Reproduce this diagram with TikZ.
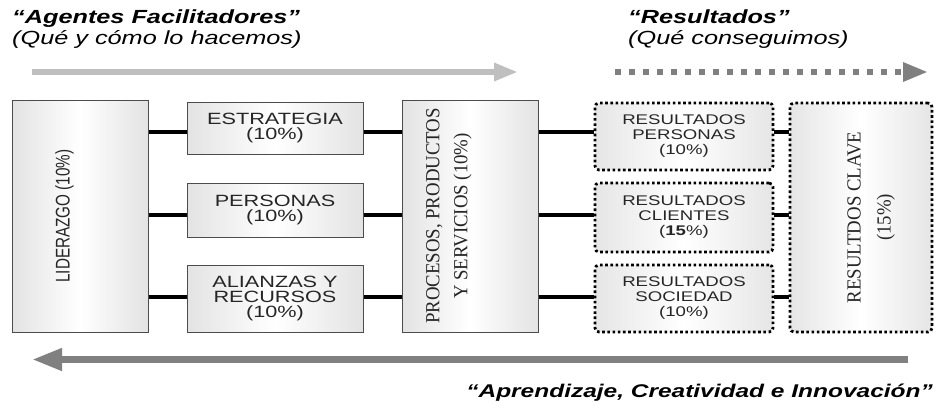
\documentclass[tikz,border=0pt]{standalone}
\usepackage{fontspec}
\setmainfont{Liberation Sans}
\newfontfamily\hdfont[FakeStretch=1.33]{Liberation Sans}
\newfontfamily\bxfont[FakeStretch=1.33]{Liberation Sans}
\newfontfamily\rsans[FakeStretch=0.77]{Liberation Sans}
\newfontfamily\rserif[FakeStretch=0.94]{Liberation Serif}
\usetikzlibrary{arrows.meta,calc}
\tikzset{
  solidbox/.style={draw=black!70, line width=1pt, left color=black!11, right color=black!11, middle color=white, inner sep=0pt},
  dotbox/.style={draw=black, line width=2.8pt, dash pattern=on 2.6pt off 2.6pt, rounded corners=4pt,
    left color=black!10, right color=black!10, middle color=white, inner sep=0pt},
  bigtxt/.style={font=\bxfont\fontsize{16.3}{15}\selectfont, text=black!85, align=center},
  restxt/.style={font=\bxfont\fontsize{14}{15}\selectfont, text=black!85, align=center},
  hdtxt/.style={font=\hdfont\fontsize{19}{22}\selectfont\itshape, anchor=base west, inner sep=0pt},
  link/.style={line width=3.5pt, black},
}
\begin{document}
\begin{tikzpicture}[x=1pt,y=-1pt]
\useasboundingbox (0,0) rectangle (937,407);

% titles
\node[hdtxt, font=\hdfont\fontsize{19}{22}\selectfont\bfseries\itshape] (t1) at (12,23) {“Agentes Facilitadores”};
\node[hdtxt] (t2) at (12,44) {(Qué y cómo lo hacemos)};
\node[hdtxt, font=\hdfont\fontsize{19}{22}\selectfont\bfseries\itshape] (t3) at (628,23) {“Resultados”};
\node[hdtxt] (t4) at (628,44) {(Qué conseguimos)};
\node[font=\hdfont\fontsize{18.4}{22}\selectfont\bfseries\itshape, anchor=base east, inner sep=0pt] (t5) at (933,397) {“Aprendizaje, Creatividad e Innovación”};

% arrows
\coordinate (a1s) at (32,72);
\coordinate (a1e) at (518,72);
\draw[line width=6pt, black!25, -{Triangle[length=24pt,width=17pt]}] (a1s) -- (a1e);
\coordinate (a2s) at (615,72);
\coordinate (a2e) at (928,72);
\draw[line width=6pt, black!50, dash pattern=on 6pt off 8pt, -{Triangle[length=25pt,width=18pt]}] (a2s) -- (a2e);
\coordinate (a3s) at (908,359.5);
\coordinate (a3e) at (32,359.5);
\draw[line width=7pt, black!50, -{Triangle[length=30pt,width=21pt]}] (a3s) -- (a3e);

% boxes
\node[solidbox, minimum width=136pt, minimum height=232pt] (L) at (80,216) {};
\node[solidbox, bigtxt, minimum width=176pt, minimum height=52pt] (E) at (275,128) {ESTRATEGIA\\(10\%)};
\node[solidbox, bigtxt, minimum width=176pt, minimum height=54pt] (P) at (275,210) {PERSONAS\\(10\%)};
\node[solidbox, bigtxt, minimum width=176pt, minimum height=67pt] (A) at (275,298.5) {ALIANZAS Y\\RECURSOS\\(10\%)};
\node[solidbox, minimum width=136pt, minimum height=232pt] (PR) at (470,216) {};
\node[dotbox, restxt, minimum width=178pt, minimum height=67pt] (RP) at (684,136.5) {RESULTADOS\\PERSONAS\\(10\%)};
\node[dotbox, restxt, minimum width=178pt, minimum height=69pt] (RC) at (684,217.5) {RESULTADOS\\CLIENTES\\({\bfseries 15}\%)};
\node[dotbox, restxt, minimum width=178pt, minimum height=67pt] (RS) at (684,298.5) {RESULTADOS\\SOCIEDAD\\(10\%)};
\node[dotbox, minimum width=142pt, minimum height=229pt] (K) at (861,217.5) {};

% rotated texts
\node[rotate=90, font=\rsans\fontsize{19.8}{20}\selectfont, text=black!85] (Lt) at ([xshift=-15.5pt]L.center) {LIDERAZGO (10\%)};
\node[rotate=90, align=center, font=\rserif\fontsize{20}{28}\selectfont, text=black!85] (PRt) at ([xshift=-21pt]PR.center) {PROCESOS, PRODUCTOS\\Y SERVICIOS (10\%)};
\node[rotate=90, align=center, font=\rserif\fontsize{20}{30}\selectfont, text=black!85] (Kt) at ([xshift=10pt]K.center) {RESULTDOS CLAVE\\(15\%)};

% connectors
\coordinate (r1) at (0,132);
\coordinate (r2) at (0,215);
\coordinate (r3) at (0,297);
\draw[link] (L.east |- r1) -- (E.west |- r1);
\draw[link] (L.east |- r2) -- (P.west |- r2);
\draw[link] (L.east |- r3) -- (A.west |- r3);
\draw[link] (E.east |- r1) -- (PR.west |- r1);
\draw[link] (P.east |- r2) -- (PR.west |- r2);
\draw[link] (A.east |- r3) -- (PR.west |- r3);
\draw[link] (PR.east |- r1) -- (RP.west |- r1);
\draw[link] (PR.east |- r2) -- (RC.west |- r2);
\draw[link] (PR.east |- r3) -- (RS.west |- r3);
\draw[link] (RP.east |- r1) -- (K.west |- r1);
\draw[link] (RC.east |- r2) -- (K.west |- r2);
\draw[link] (RS.east |- r3) -- (K.west |- r3);
\end{tikzpicture}
\end{document}
